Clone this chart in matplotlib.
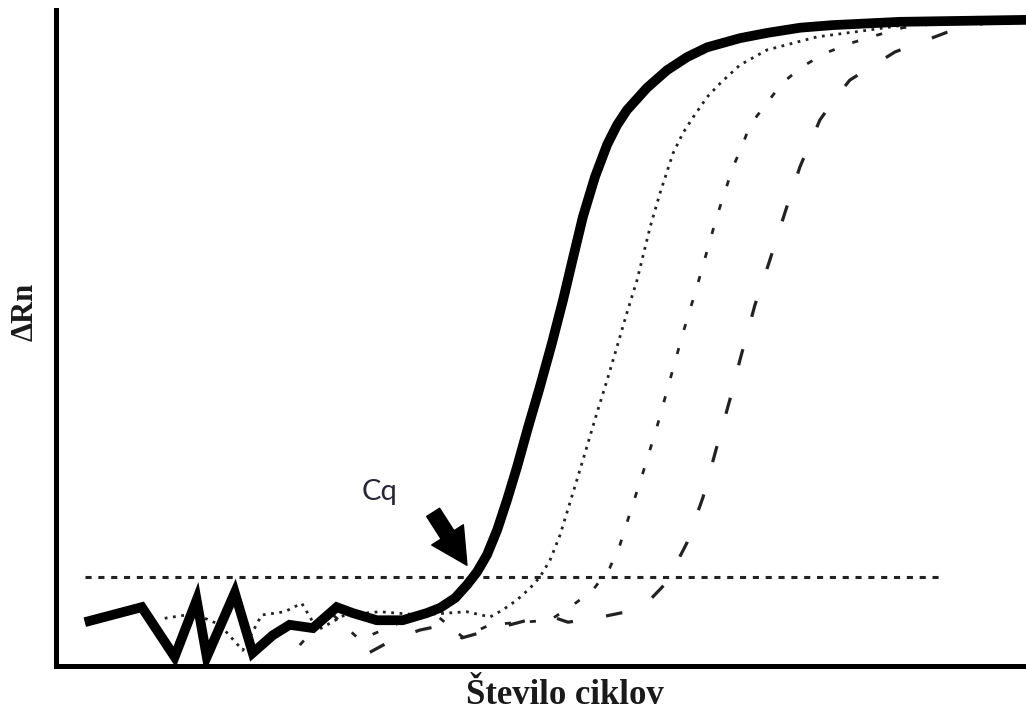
"""qPCR amplification curves with threshold and Cq marker."""

import matplotlib

matplotlib.use("Agg")
import matplotlib.pyplot as plt  # noqa: E402

# main sample (thick solid): cycle, dRn
main_x = [1.04, 3.40, 4.76, 5.67, 6.09, 7.25, 7.99, 8.82, 9.52, 10.48, 11.47,
          12.13, 13.13, 14.20, 15.20, 15.75, 16.37, 16.86, 17.28, 17.69, 18.11,
          18.52, 18.93, 19.39, 19.88, 20.38, 20.84, 21.25, 21.66, 22.16, 22.66,
          23.07, 23.48, 24.31, 25.14, 25.97, 26.80, 28.16, 29.28, 30.65, 32.01,
          34.79, 40.0]
main_y = [0.067, 0.090, 0.014, 0.101, 0.014, 0.112, 0.020, 0.047, 0.063, 0.058,
          0.090, 0.081, 0.070, 0.070, 0.081, 0.089, 0.104, 0.124, 0.144, 0.170,
          0.208, 0.254, 0.304, 0.365, 0.427, 0.494, 0.560, 0.624, 0.687, 0.748,
          0.797, 0.827, 0.850, 0.884, 0.911, 0.931, 0.946, 0.960, 0.968, 0.976,
          0.980, 0.985, 0.988]

# dilution 1 (fine dots)
dot_x = [4.35, 5.59, 6.63, 7.58, 8.36, 9.32, 10.02, 10.68, 11.80, 13.25, 14.91,
         16.85, 17.82, 18.35, 18.93, 19.47, 19.88, 20.30, 20.71, 21.25, 21.75,
         22.24, 22.66, 23.07, 23.48, 23.90, 24.44, 24.85, 25.39, 25.80, 26.22,
         26.80, 27.34, 28.16, 29.28, 31.35, 33.42, 35.49, 37.27, 40.0]
dot_y = [0.073, 0.080, 0.063, 0.024, 0.078, 0.083, 0.096, 0.055, 0.078, 0.083,
         0.078, 0.083, 0.075, 0.086, 0.101, 0.119, 0.136, 0.162, 0.200, 0.265,
         0.326, 0.387, 0.437, 0.488, 0.540, 0.590, 0.671, 0.723, 0.784, 0.815,
         0.839, 0.870, 0.891, 0.919, 0.942, 0.962, 0.972, 0.983, 0.988, 0.988]

# dilution 2 (short dashes)
sd_x = [9.94, 11.18, 12.42, 13.87, 15.32, 16.69, 17.81, 18.76, 20.29, 21.24,
        22.07, 22.77, 23.19, 23.48, 24.14, 24.72, 25.26, 25.80, 26.38, 27.20,
        27.87, 28.24, 28.57, 29.28, 29.90, 30.72, 31.68, 32.80, 33.87, 34.91,
        36.85, 40.0]
sd_y = [0.032, 0.083, 0.040, 0.063, 0.086, 0.044, 0.063, 0.066, 0.070, 0.093,
        0.116, 0.150, 0.185, 0.219, 0.295, 0.365, 0.437, 0.509, 0.580, 0.687,
        0.763, 0.794, 0.827, 0.861, 0.891, 0.916, 0.937, 0.953, 0.965, 0.976,
        0.985, 0.988]

# dilution 3 (long dashes)
ld_x = [12.84, 13.79, 14.91, 15.94, 16.65, 17.81, 19.05, 20.17, 21.04, 22.15,
        23.48, 24.43, 25.13, 25.96, 26.63, 27.20, 27.74, 28.16, 28.78, 29.40,
        30.02, 30.64, 31.47, 32.10, 32.71, 34.58, 36.73, 38.51, 40.0]
ld_y = [0.021, 0.040, 0.055, 0.063, 0.043, 0.055, 0.067, 0.078, 0.067, 0.073,
        0.083, 0.101, 0.128, 0.188, 0.258, 0.335, 0.407, 0.468, 0.552, 0.621,
        0.693, 0.763, 0.835, 0.868, 0.896, 0.939, 0.969, 0.985, 0.988]

threshold = 0.136
threshold_span = [1.04, 36.44]
cq_cycle, cq_level = 16.86, 0.154
cq_label_cycle, cq_label_level = 13.25, 0.266

fig = plt.figure(figsize=(10.26, 7.13), dpi=100)
ax = fig.add_axes([0.0546, 0.0659, 0.9454, 0.920])

ax.plot(threshold_span, [threshold, threshold], color="#222222", lw=2.2,
        linestyle=(0, (2, 2.2)))
ax.plot(ld_x, ld_y, color="#222222", lw=2.3, linestyle=(0, (5.2, 10.5)))
ax.plot(sd_x, sd_y, color="#222222", lw=2.0, linestyle=(0, (2.2, 6.8)))
ax.plot(dot_x, dot_y, color="#222222", lw=2.0, linestyle=(0, (1, 2)))
ax.plot(main_x, main_y, color="black", lw=7, solid_joinstyle="miter",
        solid_capstyle="butt")

# Cq arrow: short fat shaft, big head
ax.annotate("", xy=(cq_cycle, cq_level), xytext=(15.46, 0.235),
            arrowprops=dict(facecolor="black", edgecolor="black", width=11,
                            headwidth=27, headlength=26, shrink=0))
ax.text(cq_label_cycle, cq_label_level, "Cq", fontsize=21, family="Lato",
        color="#262638", ha="center", va="center")

ax.set_xlim(-0.15, 40.0)
ax.set_ylim(0, 1.003)
ax.set_xticks([])
ax.set_yticks([])
for side in ("top", "right"):
    ax.spines[side].set_visible(False)
for side in ("left", "bottom"):
    ax.spines[side].set_linewidth(3.6)

fig.text(565 / 1026, 1 - 695 / 713, "Število ciklov", family="Liberation Serif",
         weight="bold", fontsize=25, ha="center", va="center", color="#1a1a1a")
fig.text(25 / 1026, 1 - 312 / 713, "ΔRn", family="Liberation Serif",
         weight="bold", fontsize=22, rotation=90, ha="center", va="center",
         color="#1a1a1a")

fig.savefig("out.png", dpi=100)
